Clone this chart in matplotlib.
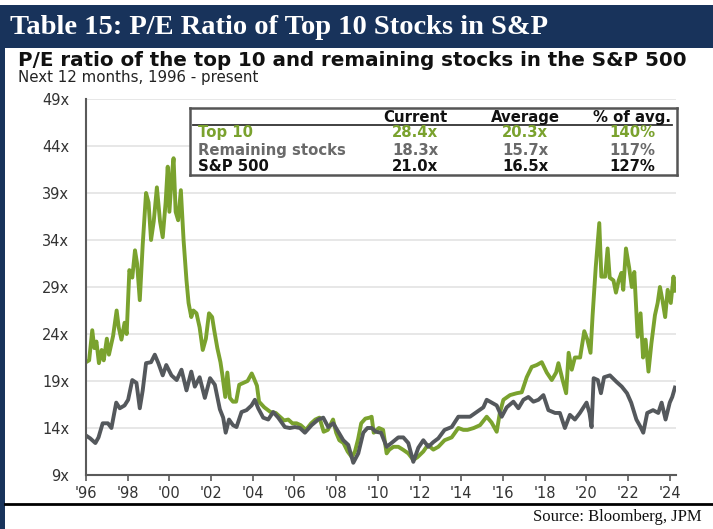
import numpy as np
import matplotlib
matplotlib.use("Agg")
import matplotlib.pyplot as plt
from matplotlib.patches import Rectangle
from matplotlib.lines import Line2D

# P/E ratio, Top 10 stocks (decimal year)
top10_t = [1996.00, 1996.15, 1996.30, 1996.40, 1996.50, 1996.62, 1996.75, 1996.85, 1997.00, 1997.10,
           1997.30, 1997.47, 1997.57, 1997.70, 1997.85, 1997.95, 1998.08, 1998.22, 1998.35, 1998.45,
           1998.58, 1998.72, 1998.88, 1999.00, 1999.12, 1999.25, 1999.40, 1999.55, 1999.68, 1999.82,
           1999.92, 2000.00, 2000.12, 2000.20, 2000.30, 2000.42, 2000.55, 2000.68, 2000.82, 2000.92,
           2001.05, 2001.15, 2001.30, 2001.45, 2001.60, 2001.75, 2001.90, 2002.05, 2002.15, 2002.30,
           2002.45, 2002.55, 2002.68, 2002.78, 2002.90, 2003.05, 2003.20, 2003.35, 2003.55, 2003.75,
           2003.95, 2004.05, 2004.20, 2004.30, 2004.55, 2004.85, 2005.10, 2005.30, 2005.50, 2005.70,
           2005.90, 2006.10, 2006.30, 2006.55, 2006.80, 2007.00, 2007.20, 2007.40, 2007.60, 2007.85,
           2008.00, 2008.15, 2008.35, 2008.55, 2008.75, 2008.90, 2009.05, 2009.20, 2009.40, 2009.60,
           2009.70, 2009.80, 2010.05, 2010.25, 2010.42, 2010.55, 2010.75, 2010.98, 2011.20, 2011.46,
           2011.70, 2011.90, 2012.18, 2012.40, 2012.66, 2012.90, 2013.20, 2013.54, 2013.86, 2014.10,
           2014.30, 2014.60, 2014.90, 2015.22, 2015.45, 2015.70, 2015.85, 2016.02, 2016.34, 2016.66,
           2016.90, 2017.14, 2017.38, 2017.62, 2017.86, 2018.10, 2018.34, 2018.55, 2018.66, 2018.85,
           2019.03, 2019.15, 2019.30, 2019.45, 2019.70, 2019.90, 2020.05, 2020.20, 2020.30, 2020.45,
           2020.62, 2020.72, 2020.90, 2021.02, 2021.12, 2021.30, 2021.42, 2021.55, 2021.68, 2021.77,
           2021.90, 2022.05, 2022.18, 2022.30, 2022.46, 2022.60, 2022.72, 2022.84, 2022.98, 2023.12,
           2023.29, 2023.42, 2023.53, 2023.65, 2023.78, 2023.90, 2024.05, 2024.18, 2024.25]
top10_pe = [21.0, 21.2, 24.4, 22.5, 23.2, 20.9, 22.3, 21.2, 23.5, 21.8,
            23.8, 26.5, 24.7, 23.4, 25.2, 24.0, 30.8, 30.0, 32.9, 31.5,
            27.6, 33.5, 39.0, 38.0, 34.0, 36.0, 39.6, 36.0, 34.3, 38.0,
            41.8, 37.0, 41.0, 42.7, 37.0, 36.1, 39.3, 34.0, 29.7, 27.3,
            25.8, 26.5, 26.2, 24.7, 22.3, 23.5, 26.2, 25.8, 24.4, 22.5,
            21.0, 19.5, 17.3, 19.9, 17.2, 16.8, 16.8, 18.6, 18.8, 19.0,
            19.8, 19.3, 18.5, 16.8, 16.2, 15.7, 15.6, 15.2, 14.8, 14.9,
            14.5, 14.5, 14.3, 13.8, 14.5, 14.9, 15.1, 13.6, 13.8, 14.9,
            13.5, 12.7, 12.4, 11.5, 10.9, 11.5, 12.8, 14.5, 15.0, 15.1,
            15.2, 13.5, 14.0, 13.8, 11.3, 11.7, 12.0, 12.0, 11.7, 11.3,
            10.6, 10.9, 11.5, 12.2, 11.7, 12.0, 12.7, 13.0, 14.0, 13.8,
            13.8, 14.0, 14.3, 15.2, 14.6, 13.6, 15.6, 17.0, 17.5, 17.7,
            17.8, 19.4, 20.5, 20.7, 21.0, 19.9, 19.1, 19.9, 20.9, 19.2,
            17.7, 22.0, 20.2, 21.5, 21.5, 24.3, 23.4, 22.0, 26.0, 31.1,
            35.8, 30.1, 30.1, 33.1, 30.0, 29.7, 28.4, 29.7, 30.5, 28.7,
            33.1, 31.1, 29.0, 30.6, 23.7, 26.2, 21.5, 23.4, 20.0, 23.0,
            26.0, 27.3, 29.0, 27.6, 25.8, 28.7, 27.3, 30.1, 28.6]

# P/E ratio, remaining stocks
rest_t = [1996.00, 1996.20, 1996.45, 1996.60, 1996.80, 1997.05, 1997.22, 1997.45, 1997.62, 1997.85,
          1998.02, 1998.22, 1998.42, 1998.58, 1998.72, 1998.88, 1999.12, 1999.30, 1999.47, 1999.68,
          1999.85, 2000.10, 2000.35, 2000.58, 2000.82, 2001.05, 2001.22, 2001.45, 2001.70, 2001.95,
          2002.18, 2002.42, 2002.58, 2002.70, 2002.86, 2003.05, 2003.22, 2003.46, 2003.70, 2003.94,
          2004.10, 2004.26, 2004.50, 2004.74, 2004.98, 2005.22, 2005.54, 2005.78, 2006.02, 2006.26,
          2006.50, 2006.82, 2007.14, 2007.38, 2007.62, 2007.86, 2008.10, 2008.34, 2008.58, 2008.82,
          2009.06, 2009.30, 2009.50, 2009.70, 2009.90, 2010.15, 2010.42, 2010.65, 2010.98, 2011.22,
          2011.46, 2011.70, 2011.94, 2012.18, 2012.42, 2012.66, 2012.90, 2013.20, 2013.54, 2013.86,
          2014.10, 2014.42, 2014.74, 2015.06, 2015.22, 2015.46, 2015.70, 2015.94, 2016.18, 2016.50,
          2016.74, 2016.98, 2017.22, 2017.46, 2017.70, 2017.94, 2018.18, 2018.50, 2018.73, 2018.97,
          2019.21, 2019.45, 2019.69, 2020.01, 2020.15, 2020.25, 2020.35, 2020.55, 2020.70, 2020.85,
          2021.13, 2021.45, 2021.70, 2021.95, 2022.15, 2022.40, 2022.60, 2022.73, 2022.92, 2023.20,
          2023.45, 2023.61, 2023.80, 2024.00, 2024.12, 2024.25]
rest_pe = [13.2, 12.9, 12.4, 13.0, 14.5, 14.5, 14.0, 16.7, 16.1, 16.4,
           17.0, 19.1, 18.8, 16.1, 18.0, 20.9, 21.0, 21.8, 20.9, 19.6,
           20.7, 19.6, 19.1, 20.2, 18.0, 20.0, 18.4, 19.4, 17.2, 19.3,
           18.6, 16.0, 15.1, 13.5, 14.9, 14.3, 14.1, 15.7, 15.9, 16.4,
           17.0, 16.1, 15.1, 14.9, 15.7, 15.1, 14.1, 14.0, 14.1, 14.0,
           13.5, 14.3, 14.9, 15.1, 14.1, 14.5, 13.6, 12.7, 12.2, 10.3,
           11.3, 13.5, 14.0, 14.0, 13.6, 13.5, 12.0, 12.4, 13.0, 13.0,
           12.4, 10.4, 11.9, 12.7, 12.0, 12.5, 12.9, 13.8, 14.1, 15.2,
           15.2, 15.2, 15.7, 16.2, 17.0, 16.7, 16.4, 15.2, 16.2, 16.8,
           16.1, 17.0, 17.3, 16.8, 17.0, 17.5, 15.9, 15.6, 15.6, 14.0,
           15.4, 14.9, 15.6, 16.7, 15.6, 14.1, 19.3, 19.1, 17.7, 19.4,
           19.6, 18.9, 18.4, 17.7, 16.7, 14.9, 14.1, 13.5, 15.6, 15.9,
           15.6, 16.7, 14.9, 16.7, 17.3, 18.3]

yticks = [9, 14, 19, 24, 29, 34, 39, 44, 49]
xticks = list(range(1996, 2025, 2))

# summary table
row_names = ["Top 10", "Remaining stocks", "S&P 500"]
col_names = ["Current", "Average", "% of avg."]
current = ["28.4x", "18.3x", "21.0x"]
average = ["20.3x", "15.7x", "16.5x"]
pct_avg = ["140%", "117%", "127%"]

green = "#7aa22e"
grey = "#54585c"
navy = "#18335b"
sans = "DejaVu Sans"
serif = "Liberation Serif"

fig = plt.figure(figsize=(7.13, 5.29), dpi=100)

# banner + borders
fig.add_artist(Rectangle((0, 1 - 48/529), 1, 43/529, transform=fig.transFigure,
                         facecolor=navy, edgecolor="none"))
fig.add_artist(Rectangle((0, 0), 5/713, 1 - 5/529, transform=fig.transFigure,
                         facecolor=navy, edgecolor="none"))
fig.add_artist(Line2D([5/713, 1], [1 - 504/529, 1 - 504/529], transform=fig.transFigure,
                      color="black", lw=2))
fig.text(10/713, 1 - 27/529, "Table 15: P/E Ratio of Top 10 Stocks in S&P", color="white",
         fontsize=20.5, fontweight="bold", family=serif, va="center", ha="left")
fig.text(18/713, 1 - 60/529, "P/E ratio of the top 10 and remaining stocks in the S&P 500",
         fontsize=14.3, fontweight="bold", family=sans, va="center", color="#111")
fig.text(18/713, 1 - 77/529, "Next 12 months, 1996 - present",
         fontsize=10.8, family=sans, va="center", color="#222")
fig.text(702/713, 1 - 517/529, "Source: Bloomberg, JPM", fontsize=12, family=serif,
         ha="right", va="center", color="#111")

ax = fig.add_axes([86/713, 1 - 475/529, 590/713, 376/529])
ax.plot(top10_t, top10_pe, color=green, lw=2.8, solid_joinstyle="round")
ax.plot(rest_t, rest_pe, color=grey, lw=2.8, solid_joinstyle="round")

ax.set_xlim(1996, 2024.3)
ax.set_ylim(9, 49)
ax.set_yticks(yticks)
ax.set_yticklabels([f"{v}x" for v in yticks])
ax.set_xticks(xticks)
ax.set_xticklabels([f"'{str(y)[2:]}" for y in xticks])
ax.grid(axis="y", color="#e3e3e3", lw=1.2)
ax.set_axisbelow(True)
for s in ["top", "right"]:
    ax.spines[s].set_visible(False)
for s in ["left", "bottom"]:
    ax.spines[s].set_color("#5a5a5a")
    ax.spines[s].set_linewidth(1.5)
ax.tick_params(axis="y", length=0, pad=12, labelsize=10.5, labelcolor="#333")
ax.tick_params(axis="x", length=4, width=1.2, color="#5a5a5a", pad=4, labelsize=10.5,
               labelcolor="#333")
for lab in ax.get_xticklabels() + ax.get_yticklabels():
    lab.set_family(sans)

# table box
tb = fig.add_axes([190/713, 1 - 175/529, 487/713, 67/529])
tb.set_xlim(0, 1)
tb.set_ylim(0, 1)
tb.set_xticks([])
tb.set_yticks([])
tb.patch.set_facecolor("white")
for s in tb.spines.values():
    s.set_color("#555")
    s.set_linewidth(1.8)
tb.plot([0.006, 0.99], [0.745, 0.745], color="#333", lw=1.3)
col_x = [0.462, 0.688, 0.908]
row_y = [0.627, 0.373, 0.134]
row_col = [green, "#6a6a6a", "#111"]
for cx, name in zip(col_x, col_names):
    tb.text(cx, 0.86, name, ha="center", va="center", fontsize=10.7, fontweight="bold",
            family=sans, color="#111")
for i, name in enumerate(row_names):
    tb.text(0.016, row_y[i], name, ha="left", va="center", fontsize=10.7, fontweight="bold",
            family=sans, color=row_col[i])
    for cx, vals in zip(col_x, [current, average, pct_avg]):
        tb.text(cx, row_y[i], vals[i], ha="center", va="center", fontsize=10.7,
                fontweight="bold", family=sans, color=row_col[i])

fig.savefig("out.png", dpi=100)
